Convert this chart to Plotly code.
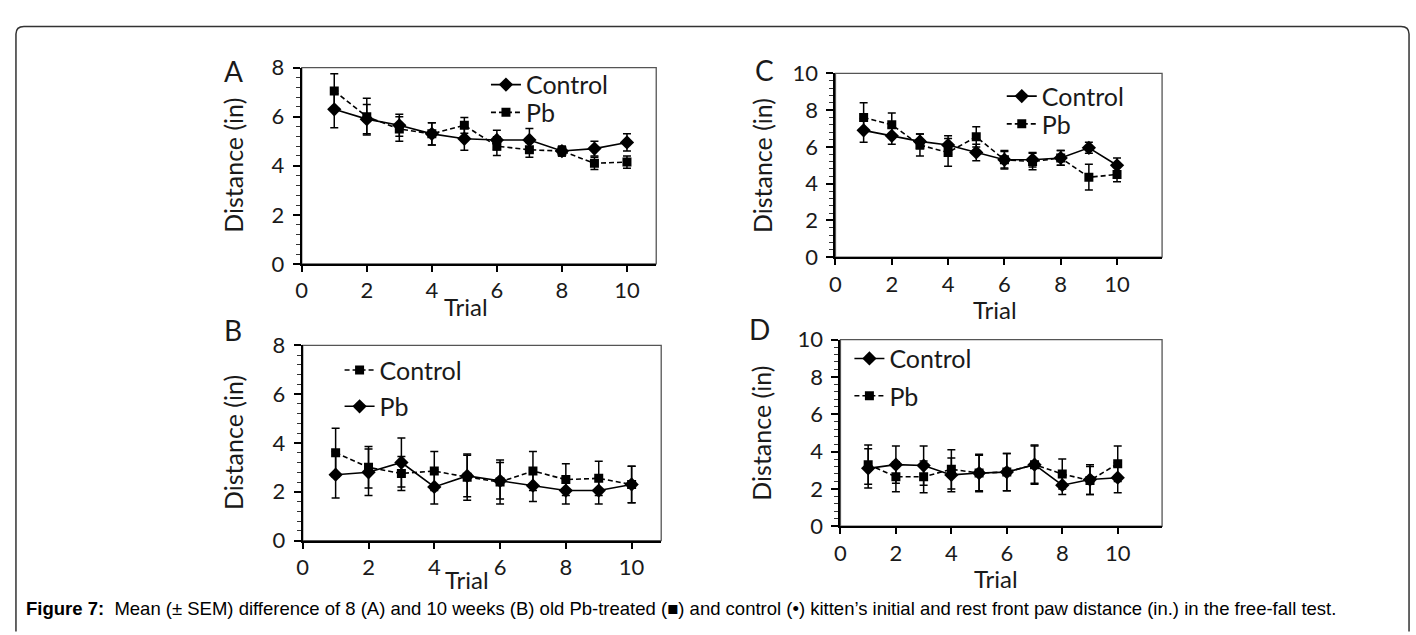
import plotly.graph_objects as go

W, H = 1416, 635

trials = [1, 2, 3, 4, 5, 6, 7, 8, 9, 10]
x_tick_vals = [0, 2, 4, 6, 8, 10]

# Panel A
a_control = [6.3, 5.9, 5.65, 5.3, 5.1, 5.05, 5.05, 4.6, 4.7, 4.95]
a_control_sem = [0.75, 0.6, 0.45, 0.45, 0.47, 0.4, 0.47, 0.2, 0.3, 0.35]
a_pb = [7.05, 6.0, 5.5, 5.3, 5.65, 4.8, 4.65, 4.6, 4.1, 4.15]
a_pb_sem = [0.7, 0.75, 0.5, 0.45, 0.32, 0.38, 0.3, 0.2, 0.25, 0.25]

# Panel B
b_control = [3.6, 3.0, 2.75, 2.85, 2.6, 2.4, 2.85, 2.5, 2.55, 2.3]
b_control_sem = [1.0, 0.85, 0.7, 0.8, 0.95, 0.9, 0.8, 0.65, 0.7, 0.75]
b_pb = [2.7, 2.8, 3.2, 2.2, 2.65, 2.45, 2.25, 2.05, 2.05, 2.3]
b_pb_sem = [0.95, 0.95, 1.0, 0.7, 0.85, 0.75, 0.65, 0.55, 0.55, 0.75]

# Panel C
c_control = [6.9, 6.6, 6.3, 6.1, 5.7, 5.3, 5.3, 5.4, 5.95, 5.0]
c_control_sem = [0.65, 0.45, 0.4, 0.5, 0.45, 0.45, 0.4, 0.4, 0.3, 0.4]
c_pb = [7.6, 7.2, 6.1, 5.7, 6.55, 5.3, 5.2, 5.4, 4.35, 4.5]
c_pb_sem = [0.8, 0.65, 0.6, 0.75, 0.55, 0.5, 0.45, 0.4, 0.7, 0.4]

# Panel D
d_control = [3.1, 3.3, 3.25, 2.75, 2.85, 2.9, 3.3, 2.2, 2.5, 2.6]
d_control_sem = [1.05, 1.0, 1.05, 0.9, 0.95, 1.0, 1.05, 0.5, 0.8, 0.8]
d_pb = [3.3, 2.65, 2.65, 3.05, 2.85, 2.9, 3.3, 2.8, 2.45, 3.35]
d_pb_sem = [1.05, 0.8, 0.85, 1.05, 1.0, 1.0, 1.0, 0.8, 0.75, 0.95]

caption = ("<b>Figure 7:</b>  Mean (± SEM) difference of 8 (A) and 10 weeks (B) old Pb-treated (■) "
           "and control (•) kitten’s initial and rest front paw distance (in.) in the free-fall test.")

FONT = "Lato"
TXT = "#1a1a1a"
DASH = "5px,3px"


def px(x):
    return x / W


def py(y):
    return 1 - y / H


panels = [
    dict(letter="A", ax="", xdom=(297, 653), xmax=10.9, ydom=(56, 261), ymax=8,
         letter_pos=(228, 60), trial_pos=(462, 306), ytitle_x=228,
         series=[("Control", a_control, a_control_sem, "solid", "diamond", (507, 74)),
                 ("Pb", a_pb, a_pb_sem, DASH, "square", (507, 103))]),
    dict(letter="C", ax="2", xdom=(833, 1161), xmax=11.6, ydom=(62, 254), ymax=10,
         letter_pos=(762, 58), trial_pos=(993, 309), ytitle_x=760,
         series=[("Control", c_control, c_control_sem, "solid", "diamond", (1025, 86)),
                 ("Pb", c_pb, c_pb_sem, DASH, "square", (1025, 115))]),
    dict(letter="B", ax="3", xdom=(298, 658), xmax=10.9, ydom=(346, 550), ymax=8,
         letter_pos=(228, 330), trial_pos=(463, 591), ytitle_x=228,
         series=[("Control", b_control, b_control_sem, DASH, "square", (360, 372)),
                 ("Pb", b_pb, b_pb_sem, "solid", "diamond", (360, 410))]),
    dict(letter="D", ax="4", xdom=(838, 1161), xmax=11.6, ydom=(340, 535), ymax=10,
         letter_pos=(757, 329), trial_pos=(994, 590), ytitle_x=758,
         series=[("Control", d_control, d_control_sem, "solid", "diamond", (872, 360)),
                 ("Pb", d_pb, d_pb_sem, DASH, "square", (872, 399))]),
]

fig = go.Figure()
layout = dict(
    width=W, height=H, margin=dict(l=0, r=0, t=0, b=0),
    paper_bgcolor="white", plot_bgcolor="white",
    font=dict(family=FONT, size=22, color=TXT),
    showlegend=True,
)
shapes = []
annotations = []
leg_count = 0

for p in panels:
    xa = "x" + p["ax"]
    ya = "y" + p["ax"]
    for (name, vals, sem, dash, sym, legpos) in p["series"]:
        leg_count += 1
        legname = "legend" if leg_count == 1 else "legend%d" % leg_count
        fig.add_trace(go.Scatter(
            x=trials, y=vals, name=name, mode="lines+markers",
            xaxis=xa, yaxis=ya, legend=legname,
            line=dict(color="black", width=1.6, dash=dash),
            marker=dict(symbol=sym, size=11 if sym == "diamond" else 9, color="black"),
            error_y=dict(type="data", array=sem, visible=True, color="black",
                         thickness=1.5, width=4),
        ))
        layout[legname] = dict(
            x=px(legpos[0] - 25), y=py(legpos[1]), xanchor="left", yanchor="middle",
            bgcolor="rgba(0,0,0,0)", borderwidth=0, itemwidth=30,
            font=dict(family=FONT, size=25, color=TXT),
        )
    xkey = "xaxis" + p["ax"]
    ykey = "yaxis" + p["ax"]
    layout[xkey] = dict(
        domain=[px(p["xdom"][0]), px(p["xdom"][1])], anchor=ya,
        range=[0, p["xmax"]], tickvals=x_tick_vals, showgrid=False, zeroline=False,
        showline=True, linecolor="black", linewidth=2,
        ticks="outside", ticklen=6, tickwidth=1.5, tickcolor="black",
        tickfont=dict(size=22, family=FONT, color=TXT),
    )
    layout[ykey] = dict(
        domain=[py(p["ydom"][1]), py(p["ydom"][0])], anchor=xa,
        range=[0, p["ymax"]], dtick=2, showgrid=False, zeroline=False,
        showline=True, linecolor="black", linewidth=2,
        ticks="outside", ticklen=7, tickwidth=1.5, tickcolor="black",
        ticklabelstandoff=4,
        minor=dict(dtick=0.4, ticks="outside", ticklen=4, tickwidth=1, tickcolor="#333"),
        tickfont=dict(size=22, family=FONT, color=TXT),
    )
    # plot frame (top / right)
    shapes.append(dict(type="rect", xref=xa + " domain", yref=ya + " domain",
                       x0=0, x1=1, y0=0, y1=1, line=dict(color="#555", width=1.3),
                       layer="below"))
    # panel letter
    annotations.append(dict(text=p["letter"], x=px(p["letter_pos"][0]), y=py(p["letter_pos"][1]),
                            xref="paper", yref="paper", xanchor="center", yanchor="middle",
                            showarrow=False, font=dict(family=FONT, size=28, color=TXT)))
    # axis titles
    annotations.append(dict(text="Trial", x=px(p["trial_pos"][0]), y=py(p["trial_pos"][1]),
                            xref="paper", yref="paper", xanchor="center", yanchor="middle",
                            showarrow=False, font=dict(family=FONT, size=24, color=TXT)))
    ymid = (p["ydom"][0] + p["ydom"][1]) / 2
    annotations.append(dict(text="Distance (in)", x=px(p["ytitle_x"]), y=py(ymid),
                            xref="paper", yref="paper", xanchor="center", yanchor="middle",
                            showarrow=False, textangle=-90,
                            font=dict(family=FONT, size=25, color=TXT)))

# caption
annotations.append(dict(text=caption, x=px(18), y=py(621), xref="paper", yref="paper",
                        xanchor="left", yanchor="middle", showarrow=False,
                        font=dict(family="Liberation Sans", size=18.5, color="black")))

# outer rounded frame
x0, x1, y0 = px(10), px(1409), py(13)
rx, ry = px(8), 8 / H
frame_path = (f"M {x0},{py(645)} L {x0},{y0 - ry} Q {x0},{y0} {x0 + rx},{y0} "
              f"L {x1 - rx},{y0} Q {x1},{y0} {x1},{y0 - ry} L {x1},{py(645)}")
shapes.append(dict(type="path", xref="paper", yref="paper", path=frame_path,
                   line=dict(color="#333", width=1.5)))

layout["shapes"] = shapes
layout["annotations"] = annotations
fig.update_layout(**layout)

fig.write_html("out.html", config={"displayModeBar": False},
               post_script="document.body.style.margin='0';document.body.style.overflow='hidden';")
